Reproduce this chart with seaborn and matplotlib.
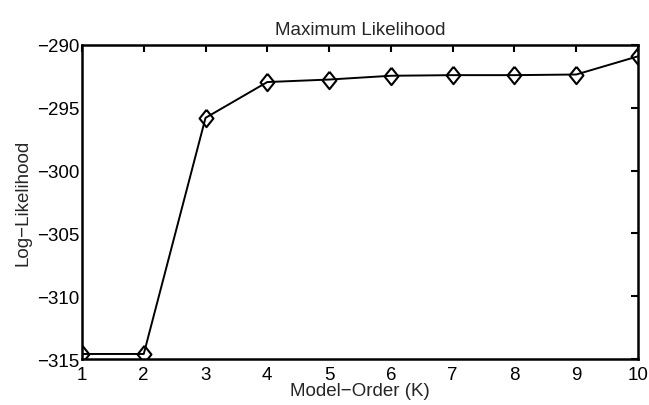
import matplotlib
matplotlib.use('Agg')
import matplotlib.pyplot as plt
import seaborn as sns
import pandas as pd

model_order = [1, 2, 3, 4, 5, 6, 7, 8, 9, 10]
log_likelihood = [-314.6, -314.6, -295.8, -292.95, -292.75, -292.45, -292.4, -292.4, -292.35, -290.9]

df = pd.DataFrame({'K': model_order, 'LL': log_likelihood})

sns.set_style('white')
plt.rcParams['font.family'] = ['Liberation Sans', 'DejaVu Sans']

# MATLAB-style diamond, a little taller than wide
diamond = [(0, 1), (0.8, 0), (0, -1), (-0.8, 0), (0, 1)]

fig = plt.figure(figsize=(6.49, 4.06), dpi=100)
ax = fig.add_axes([0.1263, 0.1133, 0.8567, 0.7734])

sns.lineplot(data=df, x='K', y='LL', ax=ax, color='black', linewidth=1.4,
             marker=diamond, markersize=12.5, markerfacecolor='none',
             markeredgecolor='black', markeredgewidth=1.5)

ax.set_xlim(1, 10)
ax.set_ylim(-315, -290)
ax.set_xticks(range(1, 11))
ax.set_yticks([-315, -310, -305, -300, -295, -290])
ax.set_yticklabels(['\u2212315', '\u2212310', '\u2212305', '\u2212300', '\u2212295', '\u2212290'])

for s in ax.spines.values():
    s.set_visible(True)
    s.set_color('black')
    s.set_linewidth(1.8)

ax.tick_params(direction='in', length=5, width=1.5, top=True, right=True,
               labelsize=13.5, colors='black')
ax.tick_params(axis='x', pad=5)
ax.tick_params(axis='y', pad=2)
ax.set_xlabel('Model\u2212Order (K)', fontsize=13.5, labelpad=-1)
ax.set_ylabel('Log\u2212Likelihood', fontsize=13.5, labelpad=4)
ax.set_title('Maximum Likelihood', fontsize=13.5, pad=8)

fig.savefig('out.png', dpi=100)
